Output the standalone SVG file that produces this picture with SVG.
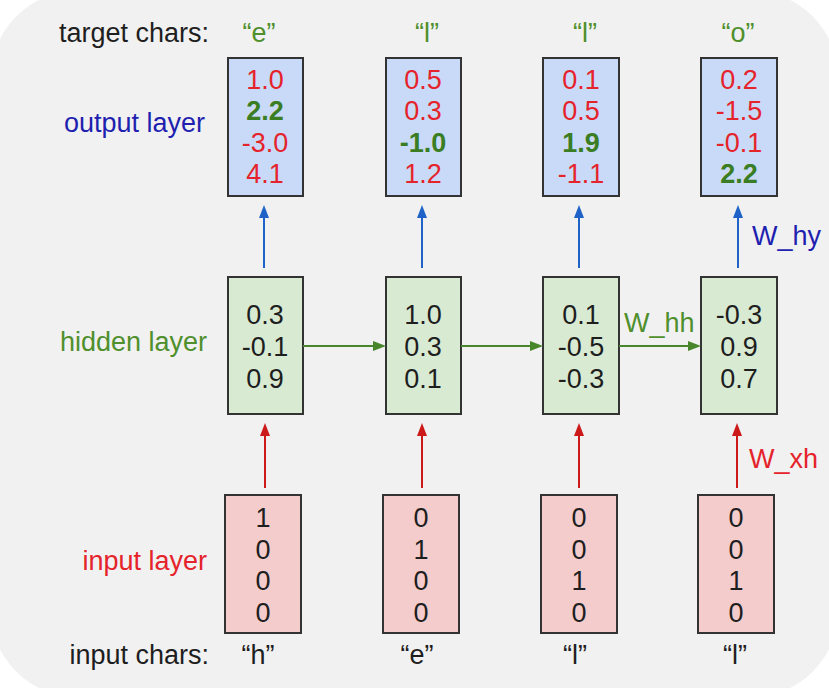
<svg xmlns="http://www.w3.org/2000/svg" width="829" height="688" viewBox="0 0 829 688">
<style>
text{font-family:"Liberation Sans",Arial,sans-serif;font-size:27px}
.lbl{text-anchor:end}
.c{text-anchor:middle}
.blk{fill:#1e1e1e}
.red{fill:#e5232b}
.grn{fill:#3a7d22;font-weight:bold}
.lg{fill:#4f8f2c}
.blu{fill:#1f1fb0}
.out{fill:#c9daf8;stroke:#333;stroke-width:2}
.hid{fill:#d9ead3;stroke:#333;stroke-width:2}
.inp{fill:#f4cccc;stroke:#333;stroke-width:2}
.ab{stroke:#1f63c9;stroke-width:2;fill:none}
.ar{stroke:#cc1a1a;stroke-width:2;fill:none}
.ag{stroke:#47862a;stroke-width:2;fill:none}
</style>
<defs>
<marker id="mb" markerUnits="userSpaceOnUse" markerWidth="13" markerHeight="10" refX="1" refY="5" orient="auto"><path d="M0,0L13,5L0,10z" fill="#1f63c9"/></marker>
<marker id="mr" markerUnits="userSpaceOnUse" markerWidth="13" markerHeight="10" refX="1" refY="5" orient="auto"><path d="M0,0L13,5L0,10z" fill="#cc1a1a"/></marker>
<marker id="mg" markerUnits="userSpaceOnUse" markerWidth="13" markerHeight="10" refX="1" refY="5" orient="auto"><path d="M0,0L13,5L0,10z" fill="#47862a"/></marker>
</defs>
<rect x="0" y="0" width="829" height="688" fill="#ffffff"/>
<rect x="-10" y="-10" width="849" height="708" rx="90" ry="90" fill="#f1f1f1"/>

<g id="row-labels">
<text class="lbl blk" x="209" y="42">target chars:</text>
<text class="lbl blu" x="205" y="132">output layer</text>
<text class="lbl lg" x="207" y="351">hidden layer</text>
<text class="lbl red" x="207" y="570">input layer</text>
<text class="lbl blk" x="209" y="664">input chars:</text>
</g>

<g id="target-chars" class="lg">
<text class="c lg" x="259" y="42">“e”</text>
<text class="c lg" x="427" y="42">“l”</text>
<text class="c lg" x="585" y="42">“l”</text>
<text class="c lg" x="738" y="42">“o”</text>
</g>

<g id="out1"><rect class="out" x="228" y="58" width="75" height="138"/>
<text class="c red" x="265" y="89">1.0</text><text class="c grn" x="265" y="120">2.2</text><text class="c red" x="265" y="152">-3.0</text><text class="c red" x="265" y="183">4.1</text></g>
<g id="out2"><rect class="out" x="386" y="58" width="75" height="138"/>
<text class="c red" x="423" y="89">0.5</text><text class="c red" x="423" y="120">0.3</text><text class="c grn" x="423" y="152">-1.0</text><text class="c red" x="423" y="183">1.2</text></g>
<g id="out3"><rect class="out" x="543" y="58" width="76" height="138"/>
<text class="c red" x="581" y="89">0.1</text><text class="c red" x="581" y="120">0.5</text><text class="c grn" x="581" y="152">1.9</text><text class="c red" x="581" y="183">-1.1</text></g>
<g id="out4"><rect class="out" x="701" y="58" width="76" height="138"/>
<text class="c red" x="739" y="89">0.2</text><text class="c red" x="739" y="120">-1.5</text><text class="c red" x="739" y="152">-0.1</text><text class="c grn" x="739" y="183">2.2</text></g>

<g id="hid1"><rect class="hid" x="228" y="277" width="75" height="137"/>
<text class="c blk" x="265" y="324">0.3</text><text class="c blk" x="265" y="356">-0.1</text><text class="c blk" x="265" y="388">0.9</text></g>
<g id="hid2"><rect class="hid" x="386" y="277" width="75" height="137"/>
<text class="c blk" x="423" y="324">1.0</text><text class="c blk" x="423" y="356">0.3</text><text class="c blk" x="423" y="388">0.1</text></g>
<g id="hid3"><rect class="hid" x="543" y="277" width="76" height="137"/>
<text class="c blk" x="581" y="324">0.1</text><text class="c blk" x="581" y="356">-0.5</text><text class="c blk" x="581" y="388">-0.3</text></g>
<g id="hid4"><rect class="hid" x="701" y="277" width="76" height="137"/>
<text class="c blk" x="739" y="324">-0.3</text><text class="c blk" x="739" y="356">0.9</text><text class="c blk" x="739" y="388">0.7</text></g>

<g id="in1"><rect class="inp" x="225" y="495" width="76" height="138"/>
<text class="c blk" x="263" y="527">1</text><text class="c blk" x="263" y="559">0</text><text class="c blk" x="263" y="590">0</text><text class="c blk" x="263" y="622">0</text></g>
<g id="in2"><rect class="inp" x="383" y="495" width="76" height="138"/>
<text class="c blk" x="421" y="527">0</text><text class="c blk" x="421" y="559">1</text><text class="c blk" x="421" y="590">0</text><text class="c blk" x="421" y="622">0</text></g>
<g id="in3"><rect class="inp" x="541" y="495" width="76" height="138"/>
<text class="c blk" x="579" y="527">0</text><text class="c blk" x="579" y="559">0</text><text class="c blk" x="579" y="590">1</text><text class="c blk" x="579" y="622">0</text></g>
<g id="in4"><rect class="inp" x="698" y="495" width="76" height="138"/>
<text class="c blk" x="736" y="527">0</text><text class="c blk" x="736" y="559">0</text><text class="c blk" x="736" y="590">1</text><text class="c blk" x="736" y="622">0</text></g>

<g id="input-chars">
<text class="c blk" x="258" y="664">“h”</text>
<text class="c blk" x="417" y="664">“e”</text>
<text class="c blk" x="575" y="664">“l”</text>
<text class="c blk" x="735" y="664">“l”</text>
</g>

<g id="connectors">
<line class="ab" x1="264" y1="268" x2="264" y2="217" marker-end="url(#mb)"/>
<line class="ab" x1="422" y1="268" x2="422" y2="217" marker-end="url(#mb)"/>
<line class="ab" x1="579" y1="268" x2="579" y2="217" marker-end="url(#mb)"/>
<line class="ab" x1="738" y1="268" x2="738" y2="217" marker-end="url(#mb)"/>
<line class="ar" x1="265" y1="488" x2="265" y2="435" marker-end="url(#mr)"/>
<line class="ar" x1="422" y1="488" x2="422" y2="435" marker-end="url(#mr)"/>
<line class="ar" x1="579" y1="488" x2="579" y2="435" marker-end="url(#mr)"/>
<line class="ar" x1="737" y1="488" x2="737" y2="435" marker-end="url(#mr)"/>
<line class="ag" x1="303" y1="346" x2="374" y2="346" marker-end="url(#mg)"/>
<line class="ag" x1="461" y1="346" x2="531" y2="346" marker-end="url(#mg)"/>
<line class="ag" x1="619" y1="346" x2="689" y2="346" marker-end="url(#mg)"/>
<text class="blu" x="752" y="245">W_hy</text>
<text class="lg" x="624" y="332">W_hh</text>
<text class="red" x="749" y="468">W_xh</text>
</g>
</svg>
